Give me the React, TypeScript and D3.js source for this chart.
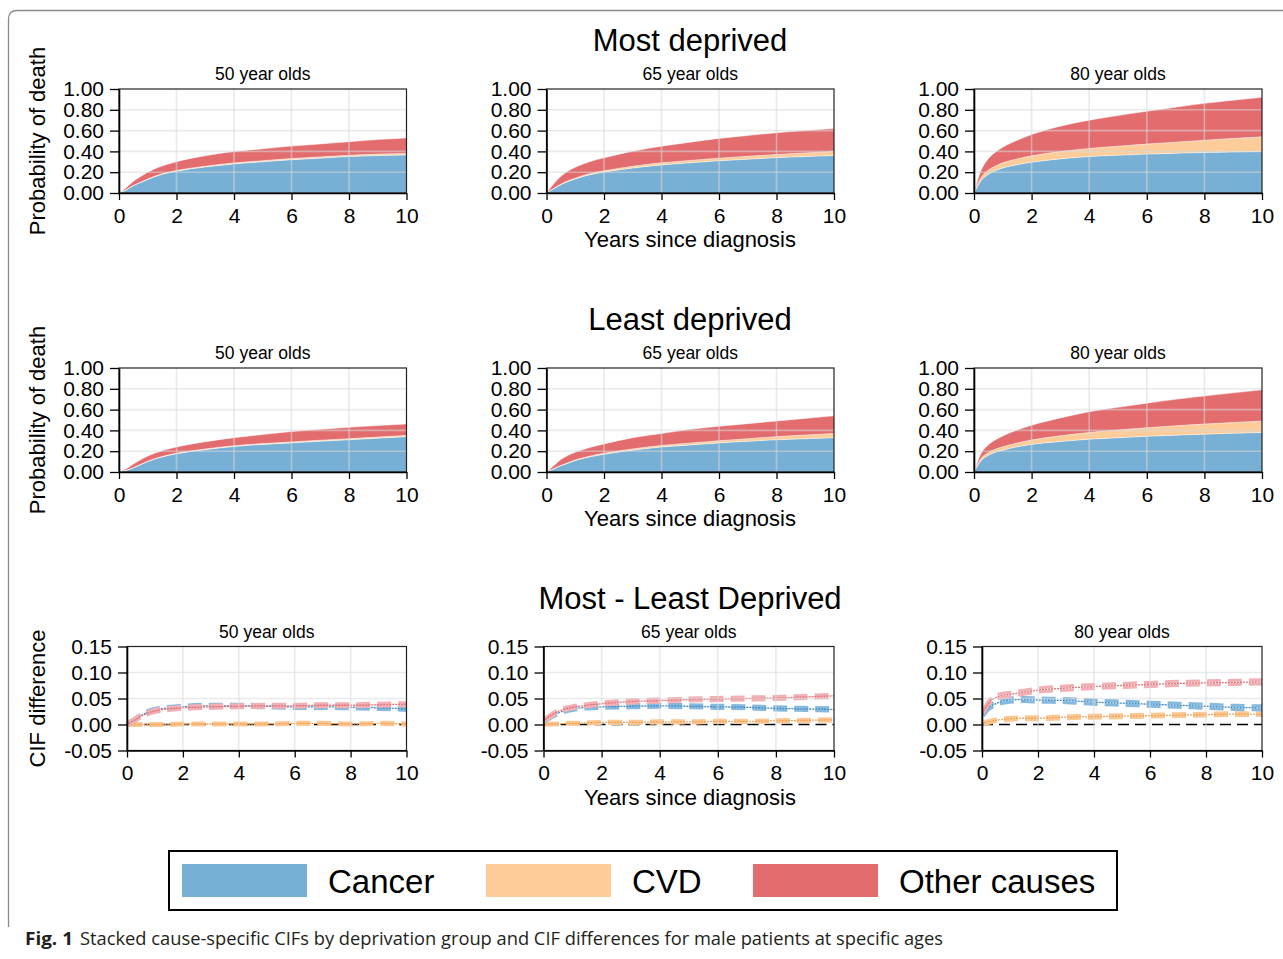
import React, { useEffect, useRef } from "react";
import * as d3 from "d3";

// time points (years since diagnosis)
const years = [0, 0.25, 0.5, 0.75, 1, 1.5, 2, 3, 4, 5, 6, 7, 8, 9, 10];
const diffYears = [0.05, 0.25, 0.5, 0.75, 1, 1.5, 2, 3, 4, 5, 6, 7, 8, 9, 10];

const causes = ["Cancer", "CVD", "Other causes"];
const causeColors = ["#78afd4", "#fdcc99", "#e36c6e"];
const lineColors = ["#3d87c2", "#f3a25a", "#e27179"];
const bandColors = ["#86b9de", "#fbc893", "#f2b0b4"];

const ageLabels = ["50 year olds", "65 year olds", "80 year olds"];
const rowTitles = ["Most deprived", "Least deprived", "Most - Least Deprived"];
const probTicks = [0, 0.2, 0.4, 0.6, 0.8, 1];
const diffTicks = [-0.05, 0, 0.05, 0.1, 0.15];
const yearTicks = [0, 2, 4, 6, 8, 10];

// most deprived, cumulative incidence per cause
const most50Cancer = [0, 0.03, 0.07, 0.1, 0.13, 0.18, 0.21, 0.25, 0.28, 0.3, 0.32, 0.335, 0.35, 0.36, 0.365];
const most50Cvd = [0, 0.001, 0.002, 0.003, 0.004, 0.005, 0.006, 0.008, 0.009, 0.01, 0.011, 0.012, 0.013, 0.014, 0.015];
const most50Other = [0, 0.02, 0.04, 0.055, 0.065, 0.075, 0.085, 0.1, 0.11, 0.115, 0.12, 0.125, 0.13, 0.14, 0.15];

const most65Cancer = [0, 0.04, 0.08, 0.11, 0.135, 0.175, 0.2, 0.24, 0.27, 0.29, 0.31, 0.325, 0.34, 0.35, 0.36];
const most65Cvd = [0, 0.003, 0.005, 0.007, 0.008, 0.011, 0.013, 0.017, 0.02, 0.023, 0.025, 0.028, 0.03, 0.035, 0.04];
const most65Other = [0, 0.045, 0.075, 0.095, 0.105, 0.115, 0.125, 0.145, 0.16, 0.175, 0.19, 0.2, 0.21, 0.215, 0.22];

const most80Cancer = [0, 0.12, 0.18, 0.215, 0.24, 0.272, 0.295, 0.328, 0.35, 0.363, 0.374, 0.382, 0.389, 0.395, 0.4];
const most80Cvd = [0, 0.03, 0.04, 0.045, 0.05, 0.056, 0.062, 0.07, 0.078, 0.087, 0.096, 0.107, 0.118, 0.129, 0.14];
const most80Other = [0, 0.07, 0.11, 0.135, 0.15, 0.18, 0.205, 0.245, 0.272, 0.295, 0.316, 0.336, 0.355, 0.368, 0.38];

// least deprived
const least50Cancer = [0, 0.015, 0.04, 0.07, 0.1, 0.145, 0.175, 0.215, 0.245, 0.265, 0.28, 0.295, 0.31, 0.325, 0.34];
const least50Cvd = [0, 0.001, 0.002, 0.002, 0.003, 0.004, 0.005, 0.006, 0.007, 0.008, 0.009, 0.01, 0.01, 0.011, 0.012];
const least50Other = [0, 0.015, 0.035, 0.045, 0.05, 0.055, 0.06, 0.07, 0.078, 0.087, 0.1, 0.105, 0.11, 0.11, 0.11];

const least65Cancer = [0, 0.03, 0.06, 0.085, 0.11, 0.145, 0.17, 0.21, 0.24, 0.26, 0.28, 0.295, 0.31, 0.32, 0.33];
const least65Cvd = [0, 0.002, 0.003, 0.004, 0.005, 0.007, 0.01, 0.012, 0.015, 0.018, 0.02, 0.025, 0.03, 0.035, 0.04];
const least65Other = [0, 0.028, 0.057, 0.071, 0.075, 0.083, 0.09, 0.108, 0.115, 0.132, 0.14, 0.145, 0.15, 0.16, 0.17];

const least80Cancer = [0, 0.11, 0.16, 0.19, 0.21, 0.242, 0.265, 0.293, 0.315, 0.33, 0.343, 0.354, 0.364, 0.372, 0.38];
const least80Cvd = [0, 0.02, 0.027, 0.03, 0.032, 0.037, 0.043, 0.055, 0.065, 0.074, 0.082, 0.09, 0.097, 0.104, 0.11];
const least80Other = [0, 0.05, 0.075, 0.09, 0.105, 0.125, 0.142, 0.172, 0.2, 0.218, 0.237, 0.255, 0.27, 0.285, 0.3];

// most - least differences
const diff50Cancer = [0.002, 0.008, 0.017, 0.024, 0.028, 0.032, 0.034, 0.036, 0.036, 0.035, 0.034, 0.034, 0.033, 0.032, 0.03];
const diff50Cvd = [0, 0, 0, 0, 0, 0, 0.001, 0.001, 0.001, 0.001, 0.002, 0.002, 0.001, 0.002, 0.001];
const diff50Other = [0.002, 0.008, 0.016, 0.022, 0.026, 0.03, 0.032, 0.034, 0.035, 0.036, 0.036, 0.037, 0.037, 0.038, 0.039];

const diff65Cancer = [0.008, 0.015, 0.022, 0.027, 0.03, 0.033, 0.034, 0.035, 0.036, 0.035, 0.034, 0.033, 0.031, 0.03, 0.029];
const diff65Cvd = [0, 0.001, 0.001, 0.002, 0.002, 0.003, 0.004, 0.004, 0.005, 0.005, 0.006, 0.006, 0.007, 0.008, 0.009];
const diff65Other = [0.009, 0.017, 0.025, 0.03, 0.033, 0.037, 0.04, 0.044, 0.046, 0.048, 0.049, 0.05, 0.051, 0.053, 0.055];

const diff80Cancer = [0.02, 0.033, 0.04, 0.045, 0.047, 0.048, 0.047, 0.046, 0.043, 0.041, 0.039, 0.037, 0.035, 0.033, 0.032];
const diff80Cvd = [0.003, 0.005, 0.008, 0.01, 0.011, 0.012, 0.012, 0.014, 0.015, 0.016, 0.017, 0.018, 0.019, 0.02, 0.02];
const diff80Other = [0.025, 0.042, 0.052, 0.056, 0.058, 0.062, 0.066, 0.07, 0.073, 0.075, 0.077, 0.079, 0.08, 0.081, 0.082];

// approximate half widths of the confidence bands
const ciHalf = [0.003, 0.003, 0.004];

const stackedSets = [
  [
    [most50Cancer, most50Cvd, most50Other],
    [most65Cancer, most65Cvd, most65Other],
    [most80Cancer, most80Cvd, most80Other],
  ],
  [
    [least50Cancer, least50Cvd, least50Other],
    [least65Cancer, least65Cvd, least65Other],
    [least80Cancer, least80Cvd, least80Other],
  ],
];
const diffSets = [
  [diff50Cancer, diff50Cvd, diff50Other],
  [diff65Cancer, diff65Cvd, diff65Other],
  [diff80Cancer, diff80Cvd, diff80Other],
];

const FONT = "'Liberation Sans', Arial, sans-serif";
const fmt2 = (d: any) => d3.format(".2f")(d).replace("\u2212", "-");

const App = () => {
  const ref = useRef<SVGSVGElement>(null);

  useEffect(() => {
    const svg = d3.select(ref.current);
    svg.selectAll("*").remove();

    // frame
    svg
      .append("path")
      .attr("d", "M8.5,927 L8.5,19 Q8.5,10.5 17,10.5 L1283,10.5")
      .attr("fill", "none")
      .attr("stroke", "#8a8a8a")
      .attr("stroke-width", 1.3);

    const stackedCols = [
      { l: 119, r: 406.5 },
      { l: 546.5, r: 834 },
      { l: 974, r: 1262 },
    ];
    const diffCols = [
      { l: 127, r: 406.5 },
      { l: 543.5, r: 834 },
      { l: 982, r: 1262 },
    ];
    const rowTops = [89, 368, 646.5];
    const ph = 104;

    const drawFrame = (g: any, x: any, y: any, w: number, yTicks: number[], ygrid: number[]) => {
      // grid over marks
      g.append("g")
        .selectAll("line.v")
        .data([2, 4, 6, 8])
        .enter()
        .append("line")
        .attr("x1", (d: number) => x(d))
        .attr("x2", (d: number) => x(d))
        .attr("y1", 0)
        .attr("y2", ph)
        .attr("stroke", "#d9d9d9")
        .attr("stroke-opacity", 0.55)
        .attr("stroke-width", 1.6);
      g.append("g")
        .selectAll("line.h")
        .data(ygrid)
        .enter()
        .append("line")
        .attr("x1", 0)
        .attr("x2", w)
        .attr("y1", (d: number) => y(d))
        .attr("y2", (d: number) => y(d))
        .attr("stroke", "#d9d9d9")
        .attr("stroke-opacity", 0.55)
        .attr("stroke-width", 1.6);

      g.append("rect")
        .attr("x", 0)
        .attr("y", 0)
        .attr("width", w)
        .attr("height", ph)
        .attr("fill", "none")
        .attr("stroke", "#222")
        .attr("stroke-width", 1.2);

      const ya = g
        .append("g")
        .call(
          d3
            .axisLeft(y)
            .tickValues(yTicks)
            .tickFormat(fmt2 as any)
            .tickSize(9)
            .tickSizeOuter(0)
            .tickPadding(6)
        );
      const xa = g
        .append("g")
        .attr("transform", "translate(0," + ph + ")")
        .call(d3.axisBottom(x).tickValues(yearTicks).tickSize(7).tickSizeOuter(0).tickPadding(8));
      [ya, xa].forEach((a: any) => {
        a.selectAll("text").style("font-size", "21px").style("font-family", FONT).attr("fill", "#000");
        a.selectAll("line").attr("stroke", "#000").attr("stroke-width", 1.3);
        a.select(".domain").attr("stroke", "#000").attr("stroke-width", 1.6);
      });
    };

    const subTitle = (g: any, w: number, label: string) => {
      g.append("text")
        .attr("x", w / 2)
        .attr("y", -9)
        .attr("text-anchor", "middle")
        .style("font-size", "17.5px")
        .style("font-family", FONT)
        .text(label);
    };

    // stacked rows
    stackedSets.forEach((row, ri) => {
      row.forEach((set, ci) => {
        const c = stackedCols[ci];
        const w = c.r - c.l;
        const g = svg.append("g").attr("transform", "translate(" + c.l + "," + rowTops[ri] + ")");
        const x = d3.scaleLinear().domain([0, 10]).range([0, w]);
        const y = d3.scaleLinear().domain([0, 1]).range([ph, 0]);
        const rows = years.map((t, i) => ({ t, c0: set[0][i], c1: set[1][i], c2: set[2][i] }));
        const stack = d3.stack<any>().keys(["c0", "c1", "c2"]);
        const layers = stack(rows);
        const area = d3
          .area<any>()
          .x((d) => x(d.data.t))
          .y0((d) => y(d[0]))
          .y1((d) => y(d[1]))
          .curve(d3.curveMonotoneX);
        const topLine = d3
          .line<any>()
          .x((d) => x(d.data.t))
          .y((d) => y(d[1]))
          .curve(d3.curveMonotoneX);
        layers.forEach((layer, li) => {
          g.append("path").attr("d", area(layer)).attr("fill", causeColors[li]);
        });
        layers.forEach((layer) => {
          g.append("path")
            .attr("d", topLine(layer))
            .attr("fill", "none")
            .attr("stroke", "#fff")
            .attr("stroke-opacity", 0.55)
            .attr("stroke-width", 0.9);
        });
        drawFrame(g, x, y, w, probTicks, [0.2, 0.4, 0.6, 0.8]);
        subTitle(g, w, ageLabels[ci]);
      });
    });

    // difference row
    diffSets.forEach((set, ci) => {
      const c = diffCols[ci];
      const w = c.r - c.l;
      const g = svg.append("g").attr("transform", "translate(" + c.l + "," + rowTops[2] + ")");
      const x = d3.scaleLinear().domain([0, 10]).range([0, w]);
      const y = d3.scaleLinear().domain([-0.05, 0.15]).range([ph, 0]);
      const line = d3
        .line<number>()
        .x((_, i) => x(diffYears[i]))
        .y((d) => y(d))
        .curve(d3.curveMonotoneX);

      g.append("line")
        .attr("x1", 0)
        .attr("x2", w)
        .attr("y1", y(0))
        .attr("y2", y(0))
        .attr("stroke", "#000")
        .attr("stroke-width", 1.6)
        .attr("stroke-dasharray", "11,6");

      // order: cvd, cancer, other
      [1, 0, 2].forEach((k) => {
        const vals = set[k];
        const h = k === 1 ? ciHalf[ci] * 0.7 : ciHalf[ci];
        [-1, 1].forEach((s) => {
          g.append("path")
            .attr("d", line(vals.map((v) => v + s * h)))
            .attr("fill", "none")
            .attr("stroke", bandColors[k])
            .attr("stroke-width", 3)
            .attr("stroke-dasharray", "14,7");
        });
        g.append("path")
          .attr("d", line(vals))
          .attr("fill", "none")
          .attr("stroke", lineColors[k])
          .attr("stroke-width", 1.3)
          .attr("stroke-dasharray", "2,1");
      });

      drawFrame(g, x, y, w, diffTicks, [0.05, 0.1]);
      subTitle(g, w, ageLabels[ci]);
    });

    // row titles, axis titles
    rowTitles.forEach((t, ri) => {
      svg
        .append("text")
        .attr("x", 690)
        .attr("y", rowTops[ri] - 38)
        .attr("text-anchor", "middle")
        .style("font-size", "31px")
        .style("font-family", FONT)
        .text(t);
      svg
        .append("text")
        .attr("x", 690)
        .attr("y", rowTops[ri] + ph + 54)
        .attr("text-anchor", "middle")
        .style("font-size", "22px")
        .style("font-family", FONT)
        .text("Years since diagnosis");
      svg
        .append("text")
        .attr("transform", "translate(45," + (rowTops[ri] + ph / 2) + ") rotate(-90)")
        .attr("text-anchor", "middle")
        .style("font-size", "22px")
        .style("font-family", FONT)
        .text(ri < 2 ? "Probability of death" : "CIF difference");
    });

    // legend
    const lg = svg.append("g");
    lg.append("rect")
      .attr("x", 169)
      .attr("y", 851)
      .attr("width", 948)
      .attr("height", 59)
      .attr("fill", "#fff")
      .attr("stroke", "#000")
      .attr("stroke-width", 2);
    const lx = [182, 486, 753];
    causes.forEach((name, i) => {
      lg.append("rect")
        .attr("x", lx[i])
        .attr("y", 864)
        .attr("width", 125)
        .attr("height", 33)
        .attr("fill", causeColors[i]);
      lg.append("text")
        .attr("x", lx[i] + 146)
        .attr("y", 893)
        .style("font-size", "33px")
        .style("font-family", FONT)
        .text(name);
    });

    // caption
    svg
      .append("text")
      .attr("x", 25)
      .attr("y", 945)
      .attr("textLength", 48)
      .attr("lengthAdjust", "spacingAndGlyphs")
      .style("font-size", "18px")
      .style("font-weight", "bold")
      .style("font-family", "'Open Sans', sans-serif")
      .attr("fill", "#231f20")
      .text("Fig. 1");
    svg
      .append("text")
      .attr("x", 80)
      .attr("y", 945)
      .attr("textLength", 863)
      .attr("lengthAdjust", "spacingAndGlyphs")
      .style("font-size", "18px")
      .style("font-family", "'Open Sans', sans-serif")
      .attr("fill", "#231f20")
      .text("Stacked cause-specific CIFs by deprivation group and CIF differences for male patients at specific ages");
  }, []);

  return (
    <div style={{ position: "absolute", left: 0, top: 0 }}>
      <svg ref={ref} width={1283} height={959} style={{ display: "block", background: "#fff" }}></svg>
    </div>
  );
};

export default App;
